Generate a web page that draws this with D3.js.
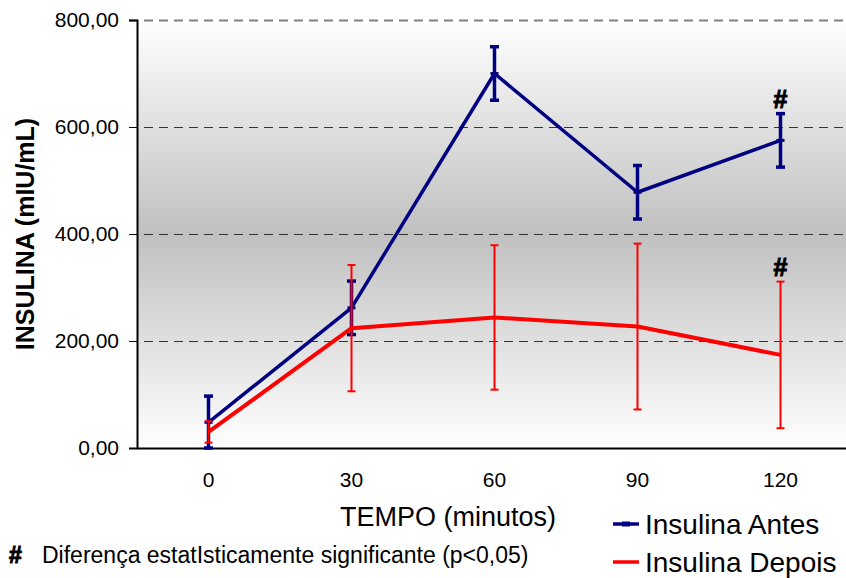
<!DOCTYPE html>
<html>
<head>
<meta charset="utf-8">
<script src="https://cdn.jsdelivr.net/npm/d3@7"></script>
<style>
  body { margin: 0; background: #fff; }
  svg { display: block; font-family: "Liberation Sans", Arial, sans-serif; }
</style>
</head>
<body>
<svg id="chart" width="846" height="578"></svg>
<script>
// Tempo (minutos) após a sobrecarga de glicose
const tempos = ["0", "30", "60", "90", "120"];
// Insulina (mIU/mL): média e desvio, antes e depois
const antesMedia = [48, 262, 700, 478, 575];
const antesErro = [49, 50, 50, 50, 50];
const depoisMedia = [30, 224, 244, 227, 174];
const depoisErro = [20, 118, 135, 155, 137];
// Pontos com diferença estatisticamente significante
const significativos = ["120"];
const yTicks = [0, 200, 400, 600, 800];

const svg = d3.select("#chart");
const plotL = 137, plotR = 852, plotT = 20, plotB = 448;

const x = d3.scaleBand().domain(tempos).range([plotL, plotR]);
const y = d3.scaleLinear().domain([0, 800]).range([plotB, plotT]);
const cx = t => x(t) + x.bandwidth() / 2;

// Fundo em degradê da área de plotagem
const defs = svg.append("defs");
const grad = defs.append("linearGradient").attr("id", "fundo")
  .attr("x1", 0).attr("y1", 0).attr("x2", 0).attr("y2", 1);
grad.append("stop").attr("offset", "0%").attr("stop-color", "#ffffff");
grad.append("stop").attr("offset", "50%").attr("stop-color", "#c0c0c0");
grad.append("stop").attr("offset", "100%").attr("stop-color", "#ffffff");
svg.append("rect").attr("x", plotL).attr("y", plotT)
  .attr("width", plotR - plotL).attr("height", plotB - plotT)
  .attr("fill", "url(#fundo)");

// Linhas de grade tracejadas
svg.append("g").selectAll("line").data(yTicks.filter(d => d > 0)).join("line")
  .attr("x1", plotL - 8).attr("x2", plotR)
  .attr("y1", d => y(d) + 0.5).attr("y2", d => y(d) + 0.5)
  .attr("stroke", d => d === 800 ? "#808080" : "#333333")
  .attr("stroke-width", d => d === 800 ? 2 : 1)
  .attr("stroke-dasharray", "9,6");

// Eixo Y
const fmt = d => d3.format(".2f")(d).replace(".", ",");
const yAxis = svg.append("g").attr("transform", `translate(${plotL},0)`)
  .call(d3.axisLeft(y).tickValues(yTicks).tickFormat(fmt).tickSize(8).tickPadding(10));
yAxis.select(".domain").attr("stroke", "#000").attr("stroke-width", 2);
yAxis.selectAll(".tick line").attr("stroke", "#000").attr("stroke-width", 1);
yAxis.selectAll(".tick text").attr("font-size", 21).attr("fill", "#000")
  .attr("font-family", "Liberation Sans, Arial, sans-serif");

// Eixo X
const xAxis = svg.append("g").attr("transform", `translate(0,${plotB})`)
  .call(d3.axisBottom(x).tickSize(0).tickPadding(24));
xAxis.select(".domain").attr("stroke", "#000").attr("stroke-width", 2);
xAxis.selectAll(".tick text").attr("font-size", 21).attr("fill", "#000")
  .attr("font-family", "Liberation Sans, Arial, sans-serif");

// Títulos dos eixos
svg.append("text").attr("x", 448).attr("y", 526).attr("text-anchor", "middle")
  .attr("font-size", 27).text("TEMPO (minutos)");
svg.append("text").attr("transform", `translate(34,${(plotT + plotB) / 2}) rotate(-90)`)
  .attr("text-anchor", "middle").attr("font-size", 25).attr("font-weight", "bold")
  .text("INSULINA (mIU/mL)");

// Desenha uma série com barras de erro
function serie(medias, erros, cor, larg, largErro, capW, marcador) {
  const g = svg.append("g");
  const dados = tempos.map((t, i) => ({ t, m: medias[i], e: erros[i] }));
  g.selectAll(".barra").data(dados).join("line")
    .attr("x1", d => cx(d.t)).attr("x2", d => cx(d.t))
    .attr("y1", d => y(Math.max(0, d.m - d.e))).attr("y2", d => y(d.m + d.e))
    .attr("stroke", cor).attr("stroke-width", largErro);
  ["sup", "inf"].forEach(k => {
    g.selectAll(".cap-" + k).data(dados).join("line")
      .attr("x1", d => cx(d.t) - capW / 2).attr("x2", d => cx(d.t) + capW / 2)
      .attr("y1", d => y(k === "sup" ? d.m + d.e : Math.max(0, d.m - d.e)))
      .attr("y2", d => y(k === "sup" ? d.m + d.e : Math.max(0, d.m - d.e)))
      .attr("stroke", cor).attr("stroke-width", largErro);
  });
  g.append("path").datum(dados)
    .attr("d", d3.line().x(d => cx(d.t)).y(d => y(d.m)))
    .attr("fill", "none").attr("stroke", cor).attr("stroke-width", larg)
    .attr("stroke-linejoin", "round");
  if (marcador) {
    g.selectAll(".marc").data(dados).join("line")
      .attr("x1", d => cx(d.t) - 4).attr("x2", d => cx(d.t) + 4)
      .attr("y1", d => y(d.m)).attr("y2", d => y(d.m))
      .attr("stroke", cor).attr("stroke-width", 3);
  }
  // Marcas de significância
  g.selectAll(".sig").data(dados.filter(d => significativos.includes(d.t))).join("text")
    .attr("x", d => cx(d.t)).attr("y", d => y(d.m + d.e) - 6)
    .attr("text-anchor", "middle").attr("font-size", 25).attr("font-weight", "bold")
    .attr("stroke", "#000").attr("stroke-width", 1)
    .text("#");
}
serie(antesMedia, antesErro, "#000080", 3.5, 3.5, 9, true);
serie(depoisMedia, depoisErro, "#ff0000", 4, 2, 8, false);

// Legenda
const legenda = [
  { nome: "Insulina Antes", cor: "#000080", marc: true },
  { nome: "Insulina Depois", cor: "#ff0000", marc: false }
];
const lg = svg.append("g");
legenda.forEach((l, i) => {
  const yy = 524 + i * 38;
  lg.append("line").attr("x1", 613).attr("x2", 639).attr("y1", yy).attr("y2", yy)
    .attr("stroke", l.cor).attr("stroke-width", 3.5);
  if (l.marc) {
    lg.append("line").attr("x1", 622).attr("x2", 630).attr("y1", yy).attr("y2", yy)
      .attr("stroke", l.cor).attr("stroke-width", 5);
  }
  lg.append("text").attr("x", 645).attr("y", yy + 10).attr("font-size", 28)
    .text(l.nome);
});

// Nota de rodapé
svg.append("text").attr("x", 9).attr("y", 563).attr("font-size", 23)
  .attr("font-weight", "bold").attr("stroke", "#000").attr("stroke-width", 1)
  .text("#");
svg.append("text").attr("x", 42).attr("y", 563).attr("font-size", 23)
  .text("Diferença estatIsticamente significante (p<0,05)");
</script>
</body>
</html>
